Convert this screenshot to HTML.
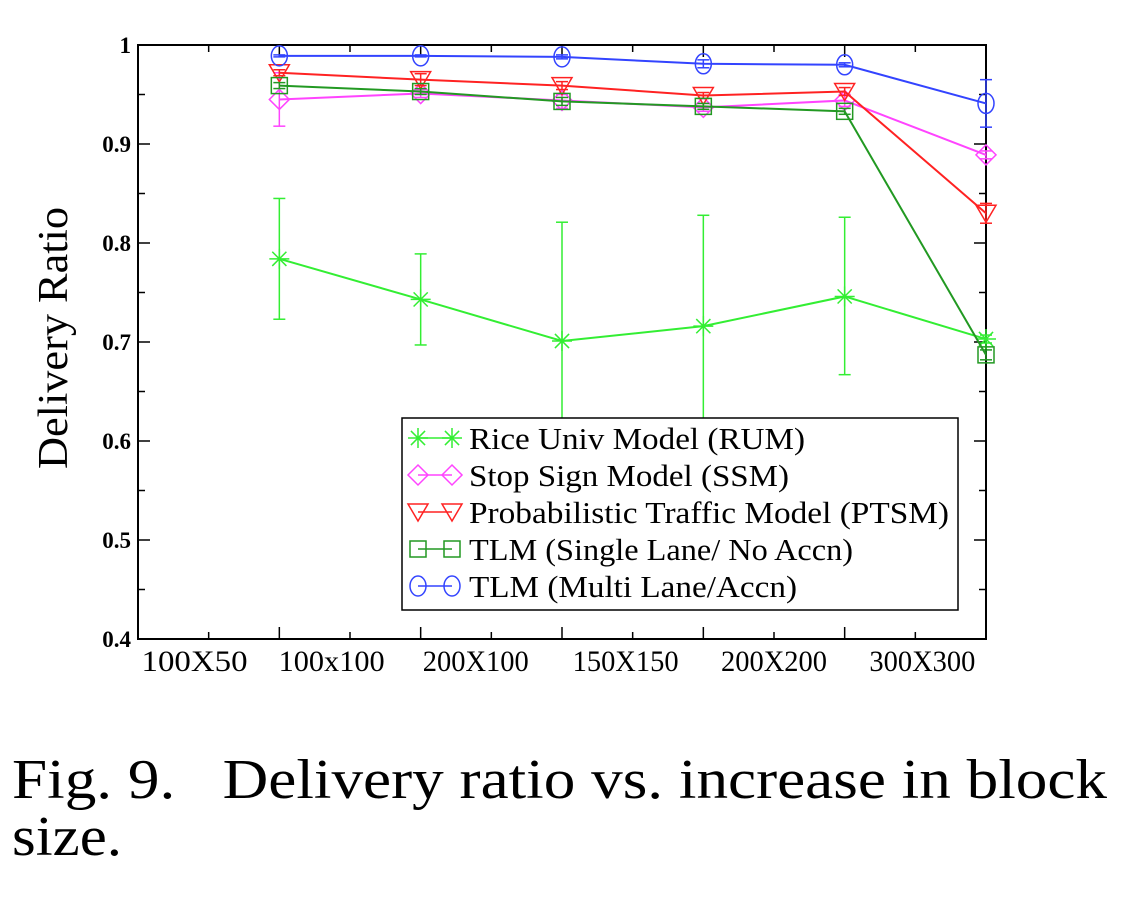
<!DOCTYPE html>
<html><head><meta charset="utf-8"><style>
html,body{margin:0;padding:0;background:#fff;}
svg{display:block;font-family:"Liberation Serif",serif;}
</style></head><body>
<svg id="chart" width="1131" height="900" viewBox="0 0 1131 900">
<g id="axes"></g>
<g id="series"></g>
<g id="legend"></g>
<text x="67" y="338" font-size="42" text-anchor="middle" textLength="262" lengthAdjust="spacingAndGlyphs" transform="rotate(-90 67 338)">Delivery Ratio</text>
<text x="12" y="798" font-size="56" textLength="1095" lengthAdjust="spacingAndGlyphs">Fig. 9.&#160;&#160;&#160;Delivery ratio vs. increase in block</text>
<text x="12" y="855" font-size="56" textLength="110" lengthAdjust="spacingAndGlyphs">size.</text>
</svg>
<script>
const categories=["100X50","100x100","200X100","150X150","200X200","300X300"];
const labelPos=[0.4,1.37,2.39,3.45,4.5,5.55];
const yTicks=[0.4,0.5,0.6,0.7,0.8,0.9,1];
const yTickLabels=["0.4","0.5","0.6","0.7","0.8","0.9","1"];
const xs=[1,2,3,4,5,6];
const rumVals=[0.784,0.743,0.701,0.716,0.746,0.703];
const rumHi=[0.845,0.789,0.821,0.828,0.826,0.707];
const rumLo=[0.723,0.697,0.58,0.60,0.667,0.699];
const ssmVals=[0.945,0.951,0.944,0.937,0.944,0.889];
const ssmHi=[0.972,0.955,0.950,0.941,0.950,0.893];
const ssmLo=[0.918,0.947,0.936,0.933,0.938,0.885];
const ptsmVals=[0.972,0.965,0.959,0.949,0.953,0.830];
const ptsmHi=[0.975,0.971,0.963,0.952,0.957,0.840];
const ptsmLo=[0.969,0.959,0.955,0.946,0.949,0.820];
const tlmsVals=[0.959,0.953,0.943,0.938,0.933,0.687];
const tlmsHi=[0.962,0.956,0.947,0.941,0.936,0.692];
const tlmsLo=[0.956,0.950,0.939,0.935,0.930,0.682];
const tlmmVals=[0.989,0.989,0.988,0.981,0.980,0.941];
const tlmmHi=[0.990,0.990,0.990,0.985,0.982,0.965];
const tlmmLo=[0.988,0.988,0.986,0.977,0.978,0.917];
const legendLabels=["Rice Univ Model (RUM)","Stop Sign Model (SSM)","Probabilistic Traffic Model (PTSM)","TLM (Single Lane/ No Accn)","TLM (Multi Lane/Accn)"];
const legendWidths=[336,320,480,384,328];

const NS="http://www.w3.org/2000/svg";
const X0=138,X1=986,Y0=45,Y1=639;
const sx=v=>X0+(X1-X0)*v/6;
const sy=v=>Y1-(Y1-Y0)*(v-0.4)/0.6;
function mk(p,tag,at){const e=document.createElementNS(NS,tag);for(const k in at)e.setAttribute(k,at[k]);p.appendChild(e);return e;}
const axes=document.getElementById('axes');
let r=mk(axes,'rect',{x:X0,y:Y0,width:X1-X0,height:Y1-Y0,fill:'none',stroke:'#000','stroke-width':2});


for(let i=0;i<=12;i++){const v=i/2,x=sx(v),L=(i%2===0)?12:7;
 mk(axes,'line',{x1:x,y1:Y1,x2:x,y2:Y1-L,stroke:'#000','stroke-width':1.5});
 mk(axes,'line',{x1:x,y1:Y0,x2:x,y2:Y0+L,stroke:'#000','stroke-width':1.5});}
for(let i=0;i<=12;i++){const v=0.4+i*0.05,y=sy(v),L=(i%2===0)?12:7;
 mk(axes,'line',{x1:X0,y1:y,x2:X0+L,y2:y,stroke:'#000','stroke-width':1.5});
 mk(axes,'line',{x1:X1,y1:y,x2:X1-L,y2:y,stroke:'#000','stroke-width':1.5});}
yTicks.forEach((v,i)=>{const t=mk(axes,'text',{x:131,y:sy(v)+8,'font-size':23,'text-anchor':'end','font-weight':'bold'});t.textContent=yTickLabels[i];
 
 });
categories.forEach((c,i)=>{const t=mk(axes,'text',{x:sx(labelPos[i]),y:671,'font-size':30,'text-anchor':'middle',textLength:106,lengthAdjust:'spacingAndGlyphs'});t.textContent=c;
 
 });

function marker(g,type,x,y,col){
 const s=10;
 if(type==='star'){for(let a=0;a<4;a++){const an=a*Math.PI/4+Math.PI/8*0;mk(g,'line',{x1:x-s*Math.cos(an),y1:y-s*Math.sin(an),x2:x+s*Math.cos(an),y2:y+s*Math.sin(an),stroke:col,'stroke-width':1.5});}}
 else if(type==='diamond')mk(g,'polygon',{points:`${x},${y-s} ${x+s},${y} ${x},${y+s} ${x-s},${y}`,fill:'none',stroke:col,'stroke-width':1.5});
 else if(type==='tri')mk(g,'polygon',{points:`${x-s},${y-s*0.8} ${x+s},${y-s*0.8} ${x},${y+s*0.9}`,fill:'none',stroke:col,'stroke-width':1.5});
 else if(type==='square')mk(g,'rect',{x:x-8,y:y-8,width:16,height:16,fill:'none',stroke:col,'stroke-width':1.5});
 else if(type==='circle')mk(g,'ellipse',{cx:x,cy:y,rx:8,ry:10,fill:'none',stroke:col,'stroke-width':1.5});
}
const seriesDefs=[
 {name:'rum',vals:rumVals,hi:rumHi,lo:rumLo,col:'#33ee33',m:'star'},
 {name:'ssm',vals:ssmVals,hi:ssmHi,lo:ssmLo,col:'#ff44ff',m:'diamond'},
 {name:'ptsm',vals:ptsmVals,hi:ptsmHi,lo:ptsmLo,col:'#ff2222',m:'tri'},
 {name:'tlm-single',vals:tlmsVals,hi:tlmsHi,lo:tlmsLo,col:'#229922',m:'square'},
 {name:'tlm-multi',vals:tlmmVals,hi:tlmmHi,lo:tlmmLo,col:'#3344ff',m:'circle'}];
const sg=document.getElementById('series');
seriesDefs.forEach(s=>{
 const g=mk(sg,'g',{});
 
 
 const pts=xs.map((x,i)=>sx(x)+','+sy(s.vals[i])).join(' ');
 mk(g,'polyline',{points:pts,fill:'none',stroke:s.col,'stroke-width':2});
 xs.forEach((x,i)=>{const px=sx(x);
  mk(g,'line',{x1:px,y1:sy(s.hi[i]),x2:px,y2:sy(s.lo[i]),stroke:s.col,'stroke-width':1.5});
  mk(g,'line',{x1:px-6,y1:sy(s.hi[i]),x2:px+6,y2:sy(s.hi[i]),stroke:s.col,'stroke-width':1.5});
  mk(g,'line',{x1:px-6,y1:sy(s.lo[i]),x2:px+6,y2:sy(s.lo[i]),stroke:s.col,'stroke-width':1.5});
  marker(g,s.m,px,sy(s.vals[i]),s.col);});
});
const lg=document.getElementById('legend');
const box=mk(lg,'rect',{x:402,y:418,width:556,height:192,fill:'#fff',stroke:'#000','stroke-width':1.5});


seriesDefs.forEach((s,i)=>{
 const y=438+i*37;
 const g=mk(lg,'g',{});
 
 
 mk(g,'line',{x1:418,y1:y,x2:452,y2:y,stroke:s.col,'stroke-width':1.5});
 marker(g,s.m,418,y,s.col);marker(g,s.m,452,y,s.col);
 const t=mk(g,'text',{x:469,y:y+11,'font-size':31,textLength:legendWidths[i],lengthAdjust:'spacingAndGlyphs'});t.textContent=legendLabels[i];
});
</script>
</body></html>
